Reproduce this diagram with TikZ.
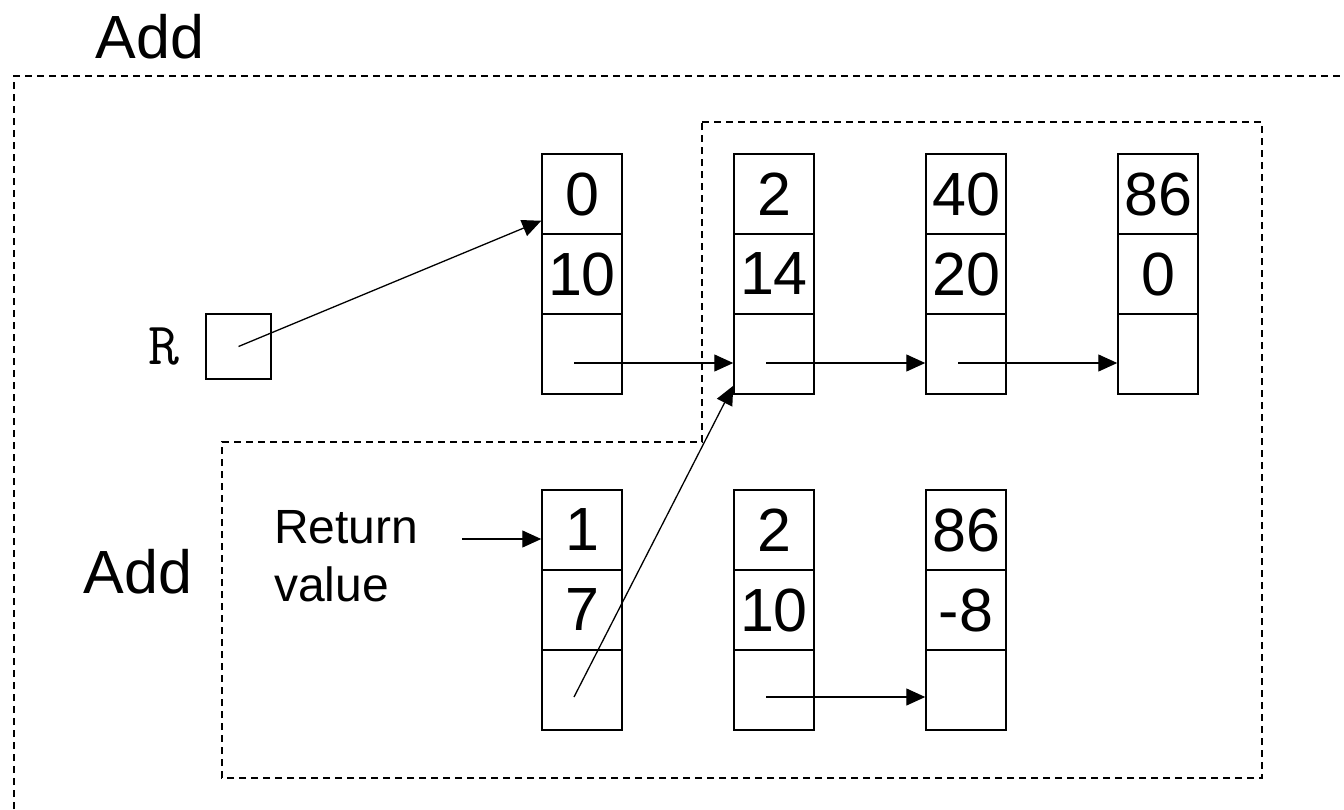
\documentclass[tikz,border=0pt]{standalone}
\usepackage{fontspec}
\setmainfont{Liberation Sans}
\usetikzlibrary{arrows.meta,calc}

\tikzset{
  cell/.style={draw, line width=1.5pt, minimum width=80pt, minimum height=80pt,
    inner sep=0pt, font=\fontsize{61}{72}\selectfont},
  frame/.style={draw, line width=1.5pt, dash pattern=on 7pt off 5pt},
  link/.style={line width=1.3pt, -{Triangle[length=19pt,width=17pt]}},
  big/.style={font=\fontsize{61}{72}\selectfont, inner sep=0pt},
}

\begin{document}
\begin{tikzpicture}[x=1pt,y=-1pt]
  \useasboundingbox (0,0) rectangle (1344,809);

  % outer frame (open to the right and below)
  \draw[frame] (14,809) -- (14,76) -- (1344,76);
  % inner frame
  \draw[frame] (702,122) -- (1262,122) -- (1262,778) -- (222,778)
               -- (222,442) -- (702,442) -- cycle;

  \node[big] (addtop) at (150,37) {Add};
  \node[big] (addlow) at (138,572) {Add};

  % R variable
  \node[font=\ttfamily\fontsize{60}{72}\selectfont, inner sep=0pt, anchor=base] (rlabel) at (164,364) {R};
  \node[draw, line width=1.5pt, minimum size=65pt, inner sep=0pt] (rbox) at (238.5,346.5) {};

  % top list
  \foreach \c/\x/\a/\b in {1/582/0/10, 2/774/2/14, 3/966/40/20, 4/1158/86/0} {
    \node[cell] (t\c a) at (\x,194) {\a};
    \node[cell] (t\c b) at (\x,274) {\b};
    \node[cell] (t\c c) at (\x,354) {};
  }
  % bottom list
  \foreach \c/\x/\a/\b in {1/582/1/7, 2/774/2/10, 3/966/86/-8} {
    \node[cell] (b\c a) at (\x,530) {\a};
    \node[cell] (b\c b) at (\x,610) {\b};
    \node[cell] (b\c c) at (\x,690) {};
  }

  \node[font=\fontsize{48}{58}\selectfont, align=left, inner sep=0pt, anchor=north west]
    (ret) at (274,510) {Return\\value};

  % pointer origins
  \coordinate (p1) at ($(t1c.center)+(-8,9)$);
  \coordinate (p2) at ($(t2c.center)+(-8,9)$);
  \coordinate (p3) at ($(t3c.center)+(-8,9)$);
  \coordinate (q1) at ($(b1c.center)+(-8,7)$);
  \coordinate (q2) at ($(b2c.center)+(-8,7)$);
  \coordinate (rs) at (462,539);
  \coordinate (rtip) at ($(t1a.south west)+(0,-14)$);
  \coordinate (dtip) at ($(t2c.south west)+(0,-9)$);

  \draw[link] (rbox.center) -- (rtip);
  \draw[link] (p1) -- (p1 -| t2c.west);
  \draw[link] (p2) -- (p2 -| t3c.west);
  \draw[link] (p3) -- (p3 -| t4c.west);
  \draw[link] (q2) -- (q2 -| b3c.west);
  \draw[link] (q1) -- (dtip);
  \draw[link] (rs) -- (rs -| b1a.west);
\end{tikzpicture}
\end{document}
